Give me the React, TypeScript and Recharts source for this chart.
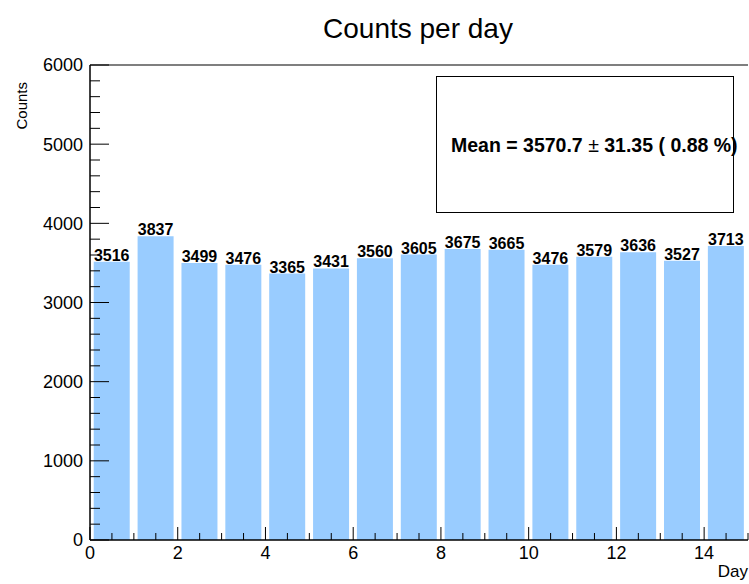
import { Bar, BarChart, LabelList, ReferenceLine, XAxis, YAxis } from "recharts";

// one bin per day, 0..14
const DAYS = ["0", "1", "2", "3", "4", "5", "6", "7", "8", "9", "10", "11", "12", "13", "14"];
const DAY_CENTERS = [0.5, 1.5, 2.5, 3.5, 4.5, 5.5, 6.5, 7.5, 8.5, 9.5, 10.5, 11.5, 12.5, 13.5, 14.5];
const COUNTS = [3516, 3837, 3499, 3476, 3365, 3431, 3560, 3605, 3675, 3665, 3476, 3579, 3636, 3527, 3713];

const X_LABELS = [0, 2, 4, 6, 8, 10, 12, 14];
const X_MINOR_STEP = 0.5;
const X_MAX = 15;
const Y_LABELS = [0, 1000, 2000, 3000, 4000, 5000, 6000];
const Y_MINOR_STEP = 200;
const Y_MAX = 6000;

const TITLE = "Counts per day";
const X_TITLE = "Day";
const Y_TITLE = "Counts";

const FONT = '"Liberation Sans", Arial, Helvetica, sans-serif';
const BAR_FILL = "#99ccff";
const W = 749;
const H = 584;

const rows = COUNTS.map((count, i) => ({ day: DAYS[i], center: DAY_CENTERS[i], count }));

const xTicks: number[] = [];
for (let v = 0; v <= X_MAX; v += X_MINOR_STEP) xTicks.push(v);
const yTicks: number[] = [];
for (let v = 0; v <= Y_MAX; v += Y_MINOR_STEP) yTicks.push(v);

// mean and its standard error, like the stats box
const mean = COUNTS.reduce((s, c) => s + c, 0) / COUNTS.length;
const variance = COUNTS.reduce((s, c) => s + (c - mean) ** 2, 0) / (COUNTS.length - 1);
const meanErr = Math.sqrt(variance / COUNTS.length);
const meanPct = (100 * meanErr) / mean;

function XTick({ x, y, payload }: any) {
  const v = payload.value;
  const major = X_LABELS.includes(v);
  return (
    <g>
      <line x1={x} x2={x} y1={y} y2={y - (major ? 13 : 7)} stroke="#000" strokeWidth={1} />
      {major && (
        <text x={x} y={y + 19} textAnchor="middle" fontSize={18} fill="#000" fontFamily={FONT}>
          {v}
        </text>
      )}
    </g>
  );
}

function YTick({ x, y, payload }: any) {
  const v = payload.value;
  const major = Y_LABELS.includes(v);
  return (
    <g>
      <line x1={x} x2={x + (major ? 19 : 10)} y1={y} y2={y} stroke="#000" strokeWidth={1} />
      {major && (
        <text x={x - 7} y={y} dy="0.36em" textAnchor="end" fontSize={18} fill="#000" fontFamily={FONT}>
          {v}
        </text>
      )}
    </g>
  );
}

export default function App() {
  return (
    <div style={{ position: "absolute", left: 0, top: 0, width: W, height: H, background: "#fff" }}>
      <BarChart
        width={W}
        height={H}
        data={rows}
        margin={{ top: 65, right: 1, left: 0, bottom: 0 }}
        barCategoryGap="8.5%"
      >
        <XAxis
          xAxisId="num"
          dataKey="center"
          type="number"
          domain={[0, X_MAX]}
          ticks={xTicks}
          interval={0}
          height={44}
          tickSize={0}
          tickMargin={0}
          tickLine={false}
          tick={<XTick />}
          axisLine={{ stroke: "#000", strokeWidth: 1.5 }}
        />
        <XAxis xAxisId="cat" dataKey="day" type="category" hide height={0} />
        <Bar xAxisId="cat" dataKey="count" fill={BAR_FILL} isAnimationActive={false}>
          <LabelList
            dataKey="count"
            position="top"
            offset={1}
            fill="#000"
            fontSize={16}
            fontWeight="bold"
            fontFamily={FONT}
          />
        </Bar>
        <ReferenceLine xAxisId="num" y={Y_MAX} stroke="#555" strokeWidth={1.5} />
        <YAxis
          type="number"
          domain={[0, Y_MAX]}
          ticks={yTicks}
          interval={0}
          width={90}
          tickSize={0}
          tickMargin={0}
          tickLine={false}
          tick={<YTick />}
          axisLine={{ stroke: "#000", strokeWidth: 1.5 }}
        />
      </BarChart>
      <svg
        width={W}
        height={H}
        style={{ position: "absolute", left: 0, top: 0, pointerEvents: "none" }}
        fontFamily={FONT}
      >
        <text x={418} y={38} textAnchor="middle" fontSize={28} fill="#000">
          {TITLE}
        </text>
        <text transform="translate(27,82) rotate(-90)" textAnchor="end" fontSize={15} fill="#000">
          {Y_TITLE}
        </text>
        <text x={748} y={577} textAnchor="end" fontSize={17} fill="#000">
          {X_TITLE}
        </text>
        <rect x={436.5} y={76.5} width={297} height={136} fill="#fff" stroke="#000" strokeWidth={1} />
        <text x={451} y={152} fontSize={19.5} fontWeight="bold" fill="#000">
          {`Mean = ${mean.toFixed(1)} `}
          <tspan fontWeight="normal">±</tspan>
          {` ${meanErr.toFixed(2)} ( ${meanPct.toFixed(2)} %)`}
        </text>
      </svg>
    </div>
  );
}
